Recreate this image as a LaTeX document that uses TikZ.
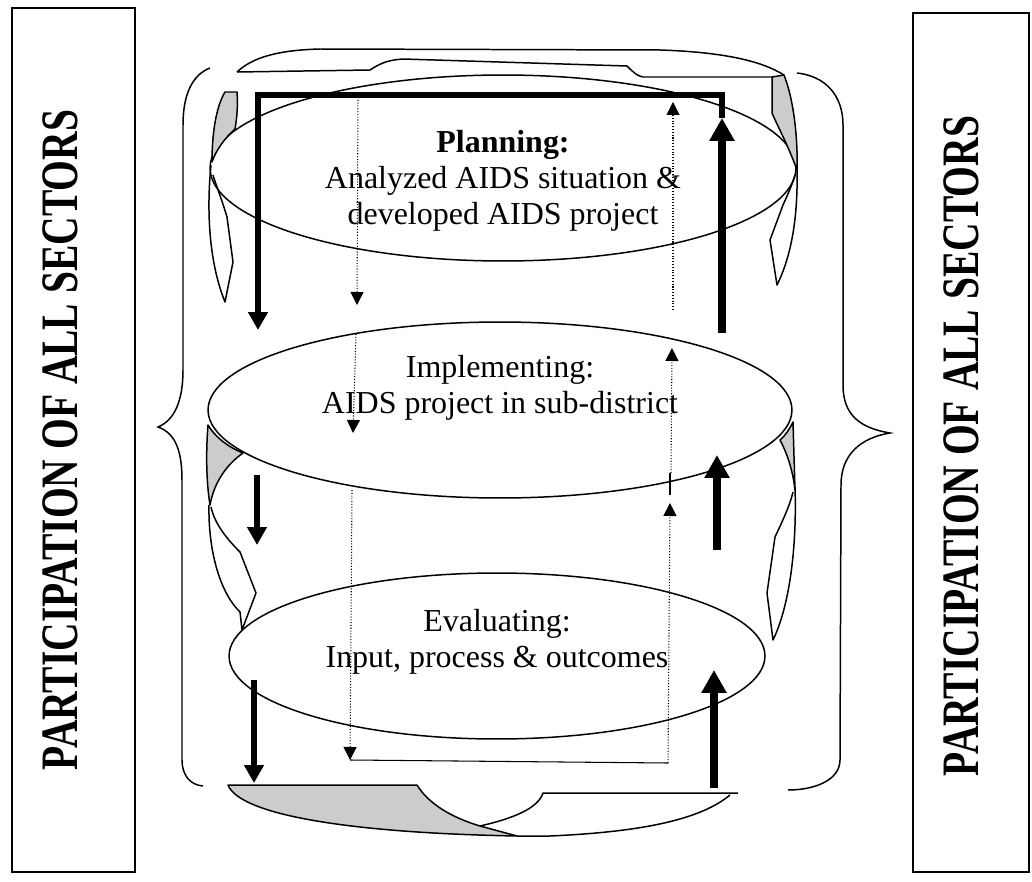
\documentclass[tikz,border=0pt]{standalone}
\usepackage{graphicx}
\usepackage{fontspec}
\setmainfont{Liberation Serif}
\usetikzlibrary{shapes.geometric,arrows.meta}

\begin{document}
\begin{tikzpicture}[x=0.02cm, y=-0.02cm,
    stage/.style={draw, ellipse, line width=0.85pt, inner sep=0pt},
    stagetext/.style={align=center, inner sep=0pt, font=\fontsize{18.2}{20.5}\selectfont},
    sidebox/.style={draw, line width=0.85pt},
    sidetext/.style={rotate=90, inner sep=0pt, font=\bfseries\fontsize{22.5}{24}\selectfont},
    heavydown/.style={line width=0.12cm, line join=miter, -{Triangle[width=0.38cm,length=0.36cm]}},
    heavyup/.style={line width=0.16cm, -{Triangle[width=0.48cm,length=0.46cm]}},
    dotflow/.style={densely dotted, line width=0.6pt, -{Triangle[width=0.26cm,length=0.26cm]}},
    ribbon/.style={draw, line width=0.85pt, line join=round},
    ribbonshade/.style={ribbon, fill=gray!40},
    bracket/.style={draw, line width=0.85pt}]
    \useasboundingbox (0,0) rectangle (1032,882);

    % side boxes
    \draw[sidebox] (12,8) rectangle (135,872);
    \node[sidetext] (leftlabel) at (60,440) {\scalebox{1}[1.33]{PARTICIPATION OF ALL SECTORS}};
    \draw[sidebox] (913,13) rectangle (1029,872);
    \node[sidetext] (rightlabel) at (961,446) {\scalebox{1}[1.33]{PARTICIPATION OF ALL SECTORS}};

    % braces
    \draw[bracket] (210,68) .. controls (192,75) and (183,95) .. (183,125) -- (183,370)
        .. controls (183,400) and (175,420) .. (158,427)
        .. controls (175,433) and (182,450) .. (182,480) -- (182,760)
        .. controls (182,775) and (190,785) .. (203,786);
    \draw[bracket] (797,73) .. controls (825,76) and (843,95) .. (843,125) -- (843,385)
        .. controls (843,415) and (860,428) .. (890,433)
        .. controls (860,438) and (841,455) .. (841,485) -- (840,760)
        .. controls (840,780) and (815,790) .. (788,790);

    % stages
    \node[stage, minimum width=11.72cm, minimum height=3.72cm] (plan) at (503,168) {};
    \node[stagetext] (plantext) at (503,181) {\textbf{Planning:}\\Analyzed AIDS situation \&\\developed AIDS project};
    \node[stage, minimum width=11.68cm, minimum height=3.52cm] (impl) at (500,410) {};
    \node[stagetext] (impltext) at (500,388) {Implementing:\\AIDS project in sub-district};
    \node[stage, minimum width=10.72cm, minimum height=3.32cm] (eval) at (497,656) {};
    \node[stagetext] (evaltext) at (497,642) {Evaluating:\\Input, process \& outcomes};

    % top ribbon
    \draw[ribbon] (237,72) .. controls (255,55) and (285,50) .. (320,49) -- (660,50)
        .. controls (720,52) and (760,60) .. (784,75);
    \draw[ribbon] (237,72) -- (370,70) .. controls (382,62) and (390,60) .. (403,59)
        -- (627,66) .. controls (633,72) and (637,76) .. (643,77) -- (772,77);

    % left ribbons
    \draw[ribbonshade] (225,92) -- (237,92) .. controls (238,105) and (237,118) .. (235,129)
        .. controls (225,138) and (216,150) .. (212,162) .. controls (212,130) and (217,105) .. (225,92) -- cycle;
    \draw[ribbon] (211,165) .. controls (206,215) and (210,265) .. (225,302) -- (233,262) -- (227,217)
        .. controls (222,200) and (216,185) .. (213,175);
    \draw[ribbonshade] (208,425) .. controls (215,437) and (228,447) .. (243,453)
        .. controls (226,465) and (214,483) .. (210,505) .. controls (206,480) and (206,450) .. (208,425) -- cycle;
    \draw[ribbon] (209,505) .. controls (208,555) and (222,595) .. (240,612) -- (242,630) -- (256,593) -- (240,552)
        .. controls (228,540) and (215,525) .. (211,507);

    % right ribbons
    \draw[ribbonshade] (772,77) -- (784,75) .. controls (794,100) and (798,140) .. (797,170)
        .. controls (788,145) and (777,125) .. (772,113) -- cycle;
    \draw[ribbon] (797,170) .. controls (798,215) and (792,255) .. (777,285) -- (770,240) -- (783,205)
        .. controls (789,192) and (793,182) .. (795,175);
    \draw[ribbonshade] (793,422) .. controls (789,430) and (785,436) .. (780,440)
        .. controls (788,455) and (793,472) .. (795,490) -- cycle;
    \draw[ribbon] (795,487) .. controls (797,545) and (790,605) .. (773,640) -- (767,593) -- (775,537)
        .. controls (783,520) and (790,505) .. (793,492);

    % bottom ribbon
    \draw[ribbonshade] (228,785) -- (417,785) .. controls (428,803) and (450,817) .. (480,826) -- (517,836)
        .. controls (350,833) and (240,815) .. (228,785) -- cycle;
    \draw[ribbon] (480,826) .. controls (515,818) and (538,808) .. (543,793) -- (738,793);
    \draw[ribbon] (517,836) -- (550,836) .. controls (640,832) and (700,820) .. (730,795);

    % heavy flow
    \coordinate (upA) at (722,333);
    \coordinate (upAtip) at (722,118);
    \coordinate (topR) at (722,95);
    \coordinate (topL) at (258,95);
    \coordinate (downAtip) at (258,330);
    \draw[heavyup] (upA) -- (upAtip);
    \draw[heavydown] (upAtip) -- (topR) -- (topL) -- (downAtip);
    \coordinate (downB) at (257,475);
    \coordinate (downBtip) at (257,545);
    \draw[heavydown] (downB) -- (downBtip);
    \coordinate (downC) at (254,680);
    \coordinate (downCtip) at (254,783);
    \draw[heavydown] (downC) -- (downCtip);
    \coordinate (upB) at (717,550);
    \coordinate (upBtip) at (717,455);
    \draw[heavyup] (upB) -- (upBtip);
    \coordinate (upC) at (714,788);
    \coordinate (upCtip) at (714,670);
    \draw[heavyup] (upC) -- (upCtip);

    % dotted flow
    \coordinate (d1) at (358,97);
    \coordinate (d1tip) at (357,305);
    \coordinate (d2) at (356,334);
    \coordinate (d2tip) at (353,433);
    \coordinate (d3) at (352,490);
    \coordinate (d3tip) at (350,760);
    \coordinate (d4) at (668,763);
    \coordinate (d4tip) at (670,503);
    \coordinate (d5) at (671,473);
    \coordinate (d5tip) at (672,348);
    \coordinate (d6) at (673,310);
    \coordinate (d6tip) at (673,102);
    \draw[dotflow] (d1) -- (d1tip);
    \draw[dotflow] (d2) -- (d2tip);
    \draw[dotflow] (d3) -- (d3tip);
    \draw[line width=0.6pt] (d3tip) -- (d4);
    \draw[dotflow] (d4) -- (d4tip);
    \draw[line width=0.6pt] (670,473) -- (670,495);
    \draw[dotflow] (d5) -- (d5tip);
    \draw[dotflow] (d6) -- (d6tip);
\end{tikzpicture}
\end{document}
